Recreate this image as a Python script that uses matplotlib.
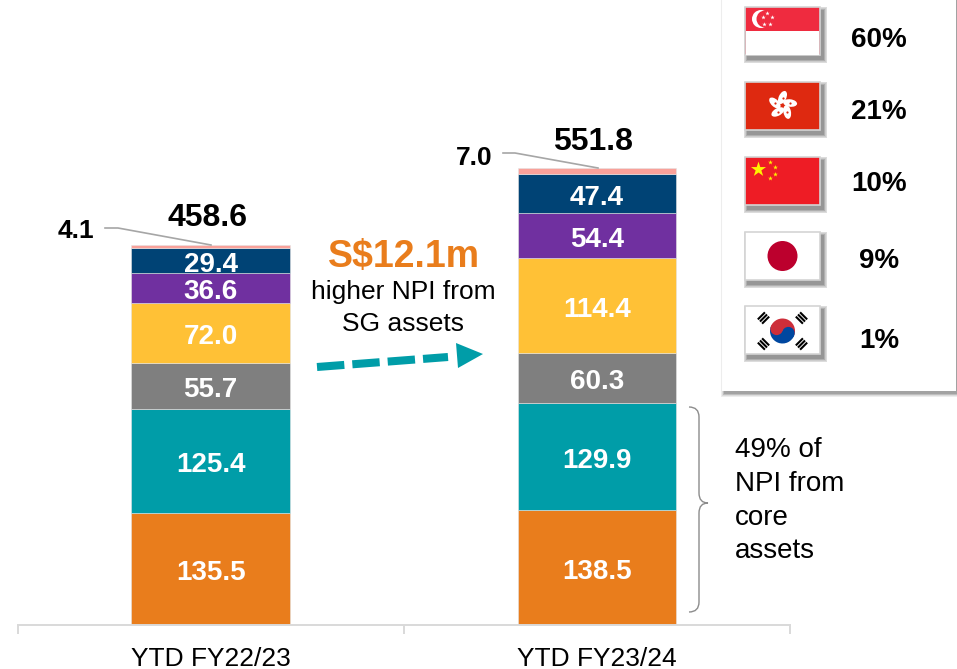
import numpy as np
import matplotlib
matplotlib.use("Agg")
import matplotlib.pyplot as plt
from matplotlib.patches import Rectangle, Circle, Wedge, Ellipse, Polygon, PathPatch
from matplotlib.path import Path

plt.rcParams['font.family'] = ['Liberation Sans', 'DejaVu Sans']

periods = ["YTD FY22/23", "YTD FY23/24"]
seg_a = [135.5, 138.5]
seg_b = [125.4, 129.9]
seg_c = [55.7, 60.3]
seg_d = [72.0, 114.4]
seg_e = [36.6, 54.4]
seg_f = [29.4, 47.4]
seg_g = [4.1, 7.0]
totals = [458.6, 551.8]
shares = ["60%", "21%", "10%", "9%", "1%"]

segments = [seg_a, seg_b, seg_c, seg_d, seg_e, seg_f, seg_g]
colors = ['#E97D1C', '#009DA8', '#7F7F7F', '#FFC136', '#7030A0', '#004375', '#F9A19A']

fig = plt.figure(figsize=(9.57, 6.69), dpi=100)

# bars, baseline sits at y=625 px
ax = fig.add_axes([17.5/957, 44/669, 772.5/957, 625/669])
ax.set_xlim(-0.5, 1.5)
ax.set_ylim(0, 625/0.8285)
ax.patch.set_visible(False)

bottom = np.zeros(2)
for vals, col in zip(segments, colors):
    vals = np.array(vals)
    ax.bar([0, 1], vals, width=0.41, bottom=bottom, color=col, edgecolor='#E4E4E4', linewidth=0.4)
    if col != colors[-1]:
        for i in range(2):
            ax.annotate(f"{vals[i]:.1f}", (i, bottom[i] + vals[i]/2), xytext=(0, -1), textcoords='offset points',
                        ha='center', va='center_baseline', color='white', fontsize=20, fontweight='bold')
    bottom += vals

for s in ['top', 'left', 'right']:
    ax.spines[s].set_visible(False)
ax.spines['bottom'].set_color('#D9D9D9')
ax.spines['bottom'].set_linewidth(1.4)
ax.set_yticks([])
ax.set_xticks([0, 1])
ax.set_xticklabels(periods, fontsize=19, color='black')
ax.tick_params(axis='x', which='major', length=0, pad=15.5)
ax.set_xticks([-0.5, 0.5, 1.5], minor=True)
ax.tick_params(axis='x', which='minor', length=6.5, width=1.4, color='#D9D9D9')

# overlay in pixel coordinates for the callouts and the flag panel
ov = fig.add_axes([0, 0, 1, 1])
ov.set_xlim(0, 957)
ov.set_ylim(669, 0)
ov.axis('off')
ov.patch.set_visible(False)


def soft_shadow(x, y, w, h, blur=4, alpha=0.07, z=2):
    for k in range(blur, 0, -1):
        ov.add_patch(Rectangle((x - k*0.6, y - k*0.6), w + k*1.2, h + k*1.2,
                               fc='black', ec='none', alpha=alpha, zorder=z))


# totals and leader lines
ov.text(207.5, 218, f"{totals[0]}", ha='center', va='center', fontsize=23, fontweight='bold')
ov.text(593, 142, f"{totals[1]}", ha='center', va='center', fontsize=23, fontweight='bold')
ov.text(76, 231, f"{seg_g[0]}", ha='center', va='center', fontsize=19, fontweight='bold')
ov.text(474, 158, f"{seg_g[1]}", ha='center', va='center', fontsize=19, fontweight='bold')
ov.plot([105, 118, 211], [228, 228, 245], color='#A6A6A6', lw=1.2)
ov.plot([503, 515, 598], [153, 153, 168], color='#A6A6A6', lw=1.2)

# callout
ov.text(404, 257, "S$12.1m", ha='center', va='center', fontsize=27, fontweight='bold', color='#E97D1C')
ov.text(403.5, 292, "higher NPI from", ha='center', va='center', fontsize=19)
ov.text(403.5, 324, "SG assets", ha='center', va='center', fontsize=19)
ov.plot([317, 448], [367, 357], color='#009DA8', lw=5.8, linestyle=(0, (3.4, 1.0)), solid_capstyle='butt')
ov.add_patch(Polygon([(456, 343), (483, 354), (458, 368)], fc='#009DA8', ec='none'))

# brace next to the core assets
verts = [(689, 407), (699, 407), (699, 417), (699, 493), (699, 503), (708, 503),
         (699, 503), (699, 513), (699, 602), (699, 612), (689, 612)]
codes = [Path.MOVETO, Path.CURVE3, Path.CURVE3, Path.LINETO, Path.CURVE3, Path.CURVE3,
         Path.CURVE3, Path.CURVE3, Path.LINETO, Path.CURVE3, Path.CURVE3]
ov.add_patch(PathPatch(Path(verts, codes), fc='none', ec='#8C8C8C', lw=1.0))
for txt, y in zip(["49% of", "NPI from", "core", "assets"], [450, 484, 518, 551]):
    ov.text(735, y, txt, ha='left', va='center', fontsize=20)

# flag panel
soft_shadow(725, -10, 233, 403, blur=6, alpha=0.07)
ov.add_patch(Rectangle((721, -10), 235, 401, fc='white', ec='none', zorder=3))
ov.plot([721, 721], [0, 391], color='#EDEDED', lw=0.8, zorder=4)

flag_y = [7, 82, 157, 232, 306]
flag_w, flag_h = 75, 48
flag_base = ['#EF2B3F', '#DE2910', '#EE1C25', 'white', 'white']
text_x = [879, 879, 879, 879, 879]
text_y = [40, 112, 184, 261, 341]

for y0, base, share, tx, ty in zip(flag_y, flag_base, shares, text_x, text_y):
    soft_shadow(748, y0 + 4, flag_w, flag_h, blur=7, alpha=0.07, z=3.5)
    ov.add_patch(Rectangle((745, y0), flag_w, flag_h, fc=base, ec='#D4D4D4', lw=1.2, zorder=4))
    ov.text(tx, ty, share, ha='center', va='center', fontsize=20, fontweight='bold', zorder=5)

# singapore
y0 = flag_y[0]
ov.add_patch(Rectangle((746, y0 + 24), 73, 23.5, fc='white', ec='none', zorder=5))
ov.add_patch(Circle((761, y0 + 12), 9, fc='white', ec='none', zorder=5))
ov.add_patch(Circle((765, y0 + 12), 8.5, fc='#EF2B3F', ec='none', zorder=5))
ov.scatter([767, 762.5, 771.5, 764, 770], [y0 + 6, y0 + 10, y0 + 10, y0 + 16.5, y0 + 16.5],
           marker='*', s=11, color='white', linewidths=0, zorder=6)

# hong kong
cx, cy = 782.5, 105.5
for ang in np.arange(0, 360, 72) + 18:
    r = np.radians(ang)
    px, py = cx + 8*np.cos(r), cy - 8*np.sin(r)
    ov.add_patch(Ellipse((px, py), 14, 7.5, angle=-ang + 25, fc='white', ec='none', zorder=5))
    ov.scatter([px], [py], s=2.5, color='#DE2910', linewidths=0, zorder=6)

# china
y0 = flag_y[2]
ov.scatter([757.5], [y0 + 12], marker='*', s=130, color='#FFF200', linewidths=0, zorder=5)
ov.scatter([770, 775, 775, 770], [y0 + 4.7, y0 + 9.7, y0 + 17, y0 + 21.3],
           marker='*', s=13, color='#FFF200', linewidths=0, zorder=5)

# japan
ov.add_patch(Circle((782.5, 256), 15, fc='#BC002D', ec='none', zorder=5))

# korea
cx, cy = 782.5, 331
ov.add_patch(Wedge((cx, cy), 12.5, 200, 380, fc='#CD2E3A', ec='none', zorder=5))
ov.add_patch(Wedge((cx, cy), 12.5, 20, 200, fc='#0047A0', ec='none', zorder=5))
dx, dy = 6.25*np.cos(np.radians(20)), 6.25*np.sin(np.radians(20))
ov.add_patch(Circle((cx + dx, cy + dy), 6.25, fc='#0047A0', ec='none', zorder=6))
ov.add_patch(Circle((cx - dx, cy - dy), 6.25, fc='#CD2E3A', ec='none', zorder=6))
for sx, sy in [(-1, -1), (1, -1), (-1, 1), (1, 1)]:
    mx, my = cx + sx*19, cy + sy*13
    ux, uy = np.array([sx, sy]) / np.hypot(1, 1)
    for k in (-3, 0, 3):
        ov.plot([mx + ux*k - uy*5, mx + ux*k + uy*5], [my + uy*k + ux*5, my + uy*k - ux*5],
                color='black', lw=1.5, zorder=6, solid_capstyle='butt')

fig.savefig("out.png", dpi=100)
